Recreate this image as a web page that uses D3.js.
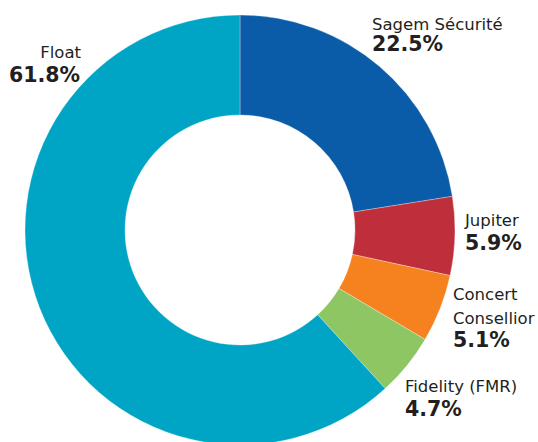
<!DOCTYPE html>
<html>
<head>
<meta charset="utf-8">
<script src="https://cdn.jsdelivr.net/npm/d3@7"></script>
<style>
  html, body { margin: 0; padding: 0; background: #fff; }
  svg { display: block; }
</style>
</head>
<body>
<div id="chart"></div>
<script>
const holders = ['Sagem Sécurité', 'Jupiter', 'Concert Consellior', 'Fidelity (FMR)', 'Float']
const shares = [22.5, 5.9, 5.1, 4.7, 61.8]
const colors = ['#0a5ca9', '#bf2f3b', '#f5821f', '#8dc663', '#00a5c5']

// hand placed label anchors (x, baseline of first line, anchor)
const labelPos = [
    { x: 372, y: 30, gap: 21, anchor: 'start', lines: ['Sagem Sécurité'] },
    { x: 465, y: 226, gap: 24, anchor: 'start', lines: ['Jupiter'] },
    { x: 453, y: 300, gap: 23.5, anchor: 'start', lines: ['Concert', 'Consellior'] },
    { x: 405, y: 392, gap: 23.5, anchor: 'start', lines: ['Fidelity (FMR)'] },
    { x: 81, y: 58, gap: 24, anchor: 'end', lines: ['Float'] }
]

const width = 538
const height = 442
const cx = 240
const cy = 230
const outerR = 215
const innerR = 115

const svg = d3.create('svg')
    .attr('width', width)
    .attr('height', height)
    .attr('viewBox', [0, 0, width, height])

const pie = d3.pie()
    .sort(null)
    .value(d => d)

const arc = d3.arc()
    .innerRadius(innerR)
    .outerRadius(outerR)

const donut = svg.append('g')
    .attr('transform', `translate(${cx}, ${cy})`)

donut.selectAll('path')
    .data(pie(shares))
    .enter()
    .append('path')
    .attr('d', arc)
    .attr('fill', (d, i) => colors[i])
    .attr('stroke', '#fff')
    .attr('stroke-width', 0.5)
    .attr('stroke-opacity', 0.6)

/* labels */
const labels = svg.append('g')
    .attr('fill', '#231f20')

holders.forEach((name, i) => {
    const pos = labelPos[i]
    const g = labels.append('text')
        .attr('text-anchor', pos.anchor)
    pos.lines.forEach((line, j) => {
        g.append('tspan')
            .attr('x', pos.x)
            .attr('y', pos.y + j * pos.gap)
            .attr('font-family', 'DejaVu Sans, sans-serif')
            .attr('font-size', 16.5)
            .text(line)
    })
    g.append('tspan')
        .attr('x', pos.x - (pos.anchor === 'end' ? 1 : 0))
        .attr('y', pos.y + pos.lines.length * pos.gap)
        .attr('font-family', 'DejaVu Sans, sans-serif')
        .attr('font-weight', 'bold')
        .attr('font-size', 20.5)
        .text(`${d3.format('.1f')(shares[i])}%`)
})

document.getElementById('chart').appendChild(svg.node())
</script>
</body>
</html>
